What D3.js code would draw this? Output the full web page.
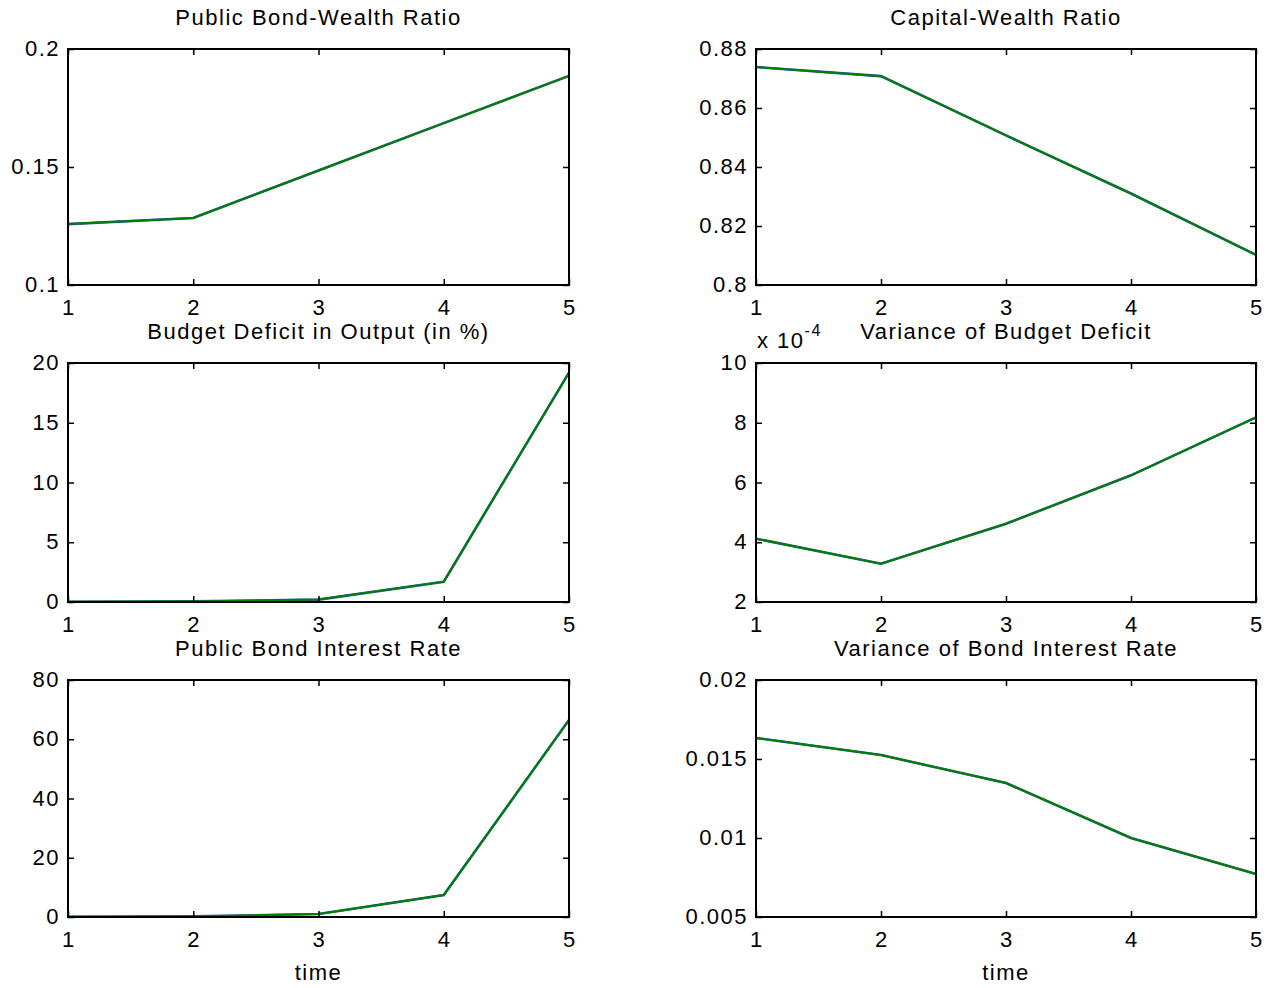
<!DOCTYPE html>
<html>
<head>
<meta charset="utf-8">
<script src="https://cdn.jsdelivr.net/npm/d3@7"></script>
<style>
  body { margin: 0; background: #fff; }
  text { font-family: "Liberation Sans", Arial, Helvetica, sans-serif; fill: #000; }
</style>
</head>
<body>
<div class="main_area"></div>
<script>
// time axis shared by all panels
const times = [1, 2, 3, 4, 5];

// two almost identical runs per panel (blue drawn below, green on top)
const bondWealthBlue  = [0.1258, 0.1284, 0.1485, 0.1686, 0.1886];
const bondWealthGreen = [0.1258, 0.1284, 0.1485, 0.1686, 0.1886];
const capWealthBlue   = [0.8739, 0.8708, 0.8507, 0.8310, 0.8102];
const capWealthGreen  = [0.8739, 0.8708, 0.8507, 0.8310, 0.8102];
const deficitBlue     = [0.02, 0.05, 0.2, 1.7, 19.2];
const deficitGreen    = [0.02, 0.05, 0.2, 1.7, 19.2];
const varDeficitBlue  = [4.12, 3.28, 4.62, 6.24, 8.18]; // x 10^-4
const varDeficitGreen = [4.12, 3.28, 4.62, 6.24, 8.18];
const rateBlue        = [0.1, 0.2, 1.0, 7.4, 66.5];
const rateGreen       = [0.1, 0.2, 1.0, 7.4, 66.5];
const varRateBlue     = [0.01633, 0.01525, 0.01348, 0.0100, 0.00772];
const varRateGreen    = [0.01633, 0.01525, 0.01348, 0.0100, 0.00772];

const yTicks1 = [0.1, 0.15, 0.2];
const yTicks2 = [0.8, 0.82, 0.84, 0.86, 0.88];
const yTicks3 = [0, 5, 10, 15, 20];
const yTicks4 = [2, 4, 6, 8, 10];
const yTicks5 = [0, 20, 40, 60, 80];
const yTicks6 = [0.005, 0.01, 0.015, 0.02];

const width = 1277, height = 988;

const svg = d3.select(".main_area")
  .append("svg")
  .attr("width", width)
  .attr("height", height);

const cols = [{left: 68, right: 569}, {left: 756, right: 1256}];
const rows = [{top: 49, bottom: 285}, {top: 363, bottom: 602}, {top: 680, bottom: 917}];

const panels = [
  {col: 0, row: 0, title: "Public Bond-Wealth Ratio", blue: bondWealthBlue, green: bondWealthGreen, ticks: yTicks1},
  {col: 1, row: 0, title: "Capital-Wealth Ratio", blue: capWealthBlue, green: capWealthGreen, ticks: yTicks2},
  {col: 0, row: 1, title: "Budget Deficit in Output (in %)", blue: deficitBlue, green: deficitGreen, ticks: yTicks3},
  {col: 1, row: 1, title: "Variance of Budget Deficit", blue: varDeficitBlue, green: varDeficitGreen, ticks: yTicks4, exponent: "-4"},
  {col: 0, row: 2, title: "Public Bond Interest Rate", blue: rateBlue, green: rateGreen, ticks: yTicks5, xLabel: "time"},
  {col: 1, row: 2, title: "Variance of Bond Interest Rate", blue: varRateBlue, green: varRateGreen, ticks: yTicks6, xLabel: "time"}
];

const fontSize = 22;
const spacing = "1.5px";
const tickLen = 6;

panels.forEach(function(p) {
  const c = cols[p.col], r = rows[p.row];
  const x = d3.scaleLinear().domain([1, 5]).range([c.left, c.right]);
  const y = d3.scaleLinear().domain(d3.extent(p.ticks)).range([r.bottom, r.top]);

  const g = svg.append("g");

  // series
  const line = d3.line().x((d, i) => x(times[i])).y(d => y(d));
  g.append("path").datum(p.blue)
    .attr("d", line).attr("fill", "none")
    .attr("stroke", "#2a4fa8").attr("stroke-width", 2.6);
  g.append("path").datum(p.green)
    .attr("d", line).attr("fill", "none")
    .attr("stroke", "#007f00").attr("stroke-width", 2);

  // inner ticks, all four sides
  const xb = d3.axisBottom(x).tickValues(times).tickSize(-tickLen).tickFormat("");
  const xt = d3.axisTop(x).tickValues(times).tickSize(-tickLen).tickFormat("");
  const yl = d3.axisLeft(y).tickValues(p.ticks).tickSize(-tickLen).tickFormat("");
  const yr = d3.axisRight(y).tickValues(p.ticks).tickSize(-tickLen).tickFormat("");
  [[xb, "translate(0," + r.bottom + ")"], [xt, "translate(0," + r.top + ")"],
   [yl, "translate(" + c.left + ",0)"], [yr, "translate(" + c.right + ",0)"]].forEach(function(a) {
    const ax = g.append("g").attr("transform", a[1]).call(a[0]);
    ax.select(".domain").remove();
    ax.selectAll("line").attr("stroke", "#000").attr("stroke-width", 1.5);
  });

  // box
  g.append("rect")
    .attr("x", c.left).attr("y", r.top)
    .attr("width", c.right - c.left).attr("height", r.bottom - r.top)
    .attr("fill", "none").attr("stroke", "#000").attr("stroke-width", 2);

  // tick labels
  g.selectAll(".xl").data(times).enter().append("text")
    .attr("x", d => x(d)).attr("y", r.bottom + 30)
    .attr("text-anchor", "middle")
    .style("font-size", fontSize + "px")
    .text(d => d);

  g.selectAll(".yl").data(p.ticks).enter().append("text")
    .attr("x", c.left - 8).attr("y", d => y(d) + 7)
    .attr("text-anchor", "end")
    .style("font-size", fontSize + "px")
    .style("letter-spacing", spacing)
    .text(d => String(d));

  // title
  g.append("text")
    .attr("x", (c.left + c.right) / 2).attr("y", r.top - 24)
    .attr("text-anchor", "middle")
    .style("font-size", fontSize + "px")
    .style("letter-spacing", spacing)
    .text(p.title);

  if (p.exponent) {
    const t = g.append("text")
      .attr("x", c.left + 1).attr("y", r.top - 15)
      .style("font-size", fontSize + "px")
      .style("letter-spacing", spacing);
    t.append("tspan").text("x 10");
    t.append("tspan").attr("dy", -12).style("font-size", "16px").text(p.exponent);
  }

  if (p.xLabel) {
    g.append("text")
      .attr("x", (c.left + c.right) / 2).attr("y", r.bottom + 63)
      .attr("text-anchor", "middle")
      .style("font-size", fontSize + "px")
      .style("letter-spacing", spacing)
      .text(p.xLabel);
  }
});
</script>
</body>
</html>
